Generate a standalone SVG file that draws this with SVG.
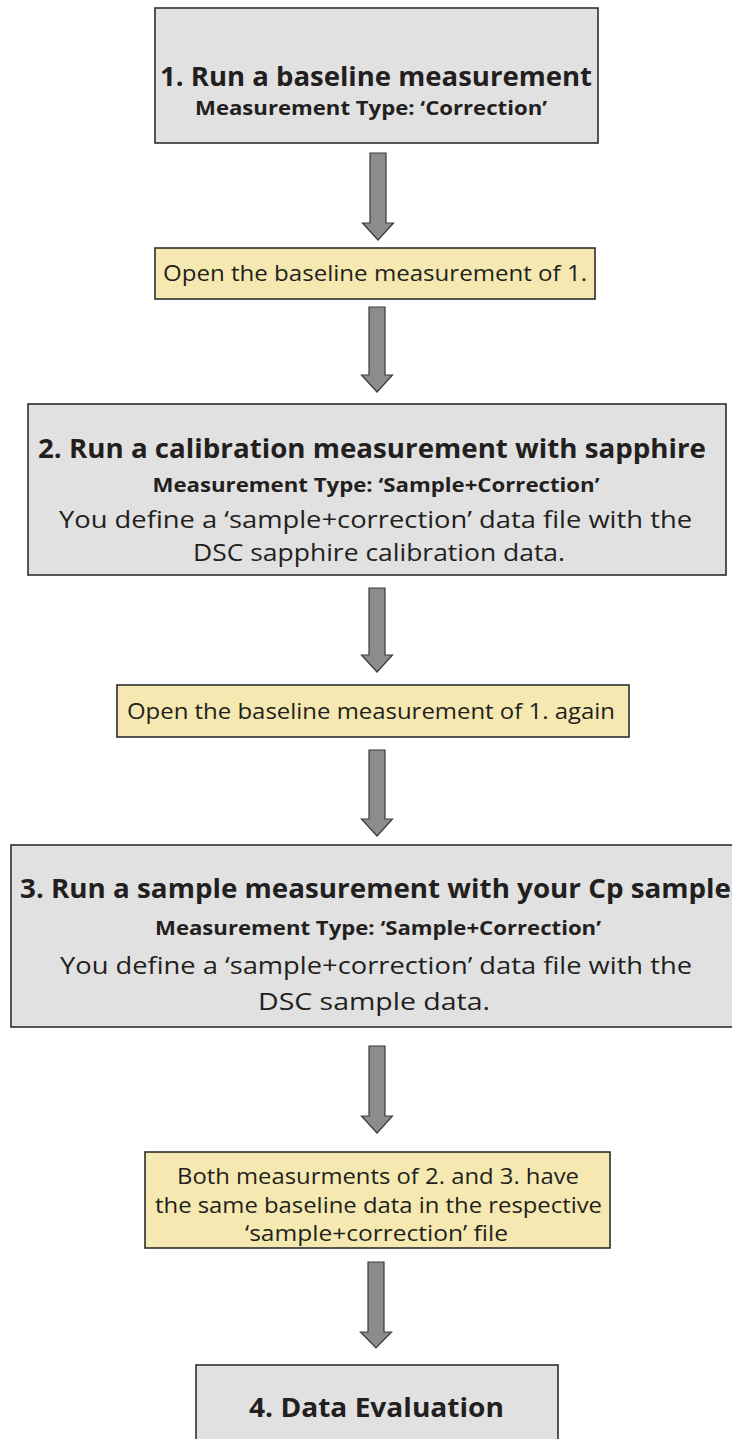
<svg xmlns="http://www.w3.org/2000/svg" width="732" height="1439" viewBox="0 0 732 1439">
  <style>
    .step { fill: #e1e1e1; stroke: #2e2e2e; stroke-width: 1.6; }
    .note { fill: #f5e9b1; stroke: #2e2e2e; stroke-width: 1.6; }
    .arrow { fill: #8c8c8c; stroke: #3a3a3a; stroke-width: 1.2; stroke-linejoin: miter; }
    text { font-family: "Open Sans", "DejaVu Sans", sans-serif; fill: #231f20; text-anchor: middle; }
    .title { font-weight: bold; font-size: 27px; }
    .sub { font-weight: bold; font-size: 19px; }
    .body { font-size: 24px; }
    .nt { font-size: 21.5px; }
  </style>
  <rect width="732" height="1439" fill="#ffffff"/>

  <!-- connectors: block arrows between steps -->
  <g id="connectors">
    <polygon class="arrow" points="370,153 386,153 386,223 393.5,223 378,240 362.5,223 370,223"/>
    <polygon class="arrow" points="369,307 385,307 385,375 392.5,375 377,392 361.5,375 369,375"/>
    <polygon class="arrow" points="369,588 385,588 385,655 392.5,655 377,672 361.5,655 369,655"/>
    <polygon class="arrow" points="369,750 385,750 385,819 392.5,819 377,836 361.5,819 369,819"/>
    <polygon class="arrow" points="369,1046 385,1046 385,1116 392.5,1116 377,1133 361.5,1116 369,1116"/>
    <polygon class="arrow" points="368,1262 384,1262 384,1332 391.5,1332 376,1348 360.5,1332 368,1332"/>
  </g>

  <g id="step1">
    <rect class="step" x="155" y="8" width="443" height="135"/>
    <text class="title" x="376" y="86" textLength="432" lengthAdjust="spacingAndGlyphs">1. Run a baseline measurement</text>
    <text class="sub" x="371" y="115" textLength="352" lengthAdjust="spacingAndGlyphs">Measurement Type: ‘Correction’</text>
  </g>

  <g id="note1">
    <rect class="note" x="155" y="248" width="440" height="51"/>
    <text class="nt" x="375" y="281" textLength="424" lengthAdjust="spacingAndGlyphs">Open the baseline measurement of 1.</text>
  </g>

  <g id="step2">
    <rect class="step" x="28" y="404" width="698" height="171"/>
    <text class="title" x="372" y="458" textLength="668" lengthAdjust="spacingAndGlyphs">2. Run a calibration measurement with sapphire</text>
    <text class="sub" x="376" y="492" textLength="447" lengthAdjust="spacingAndGlyphs">Measurement Type: ‘Sample+Correction’</text>
    <text class="body" x="375.5" y="528" textLength="633" lengthAdjust="spacingAndGlyphs">You define a ‘sample+correction’ data file with the</text>
    <text class="body" x="379" y="561" textLength="372" lengthAdjust="spacingAndGlyphs">DSC sapphire calibration data.</text>
  </g>

  <g id="note2">
    <rect class="note" x="117" y="685" width="512" height="52"/>
    <text class="nt" x="371" y="719" textLength="488" lengthAdjust="spacingAndGlyphs">Open the baseline measurement of 1. again</text>
  </g>

  <g id="step3">
    <rect class="step" x="11" y="845" width="730" height="182"/>
    <text class="title" x="375.5" y="898" textLength="711" lengthAdjust="spacingAndGlyphs">3. Run a sample measurement with your Cp sample</text>
    <text class="sub" x="378" y="935" textLength="446" lengthAdjust="spacingAndGlyphs">Measurement Type: ‘Sample+Correction’</text>
    <text class="body" x="376" y="974" textLength="632" lengthAdjust="spacingAndGlyphs">You define a ‘sample+correction’ data file with the</text>
    <text class="body" x="374" y="1010" textLength="232" lengthAdjust="spacingAndGlyphs">DSC sample data.</text>
  </g>

  <g id="note3">
    <rect class="note" x="145" y="1152" width="465" height="96"/>
    <text class="nt" x="378" y="1184" textLength="402" lengthAdjust="spacingAndGlyphs">Both measurments of 2. and 3. have</text>
    <text class="nt" x="378.5" y="1213" textLength="447" lengthAdjust="spacingAndGlyphs">the same baseline data in the respective</text>
    <text class="nt" x="376.5" y="1241" textLength="263" lengthAdjust="spacingAndGlyphs">‘sample+correction’ file</text>
  </g>

  <g id="step4">
    <rect class="step" x="196" y="1365" width="362" height="90"/>
    <text class="title" x="376.5" y="1417" textLength="255" lengthAdjust="spacingAndGlyphs">4. Data Evaluation</text>
  </g>
</svg>
